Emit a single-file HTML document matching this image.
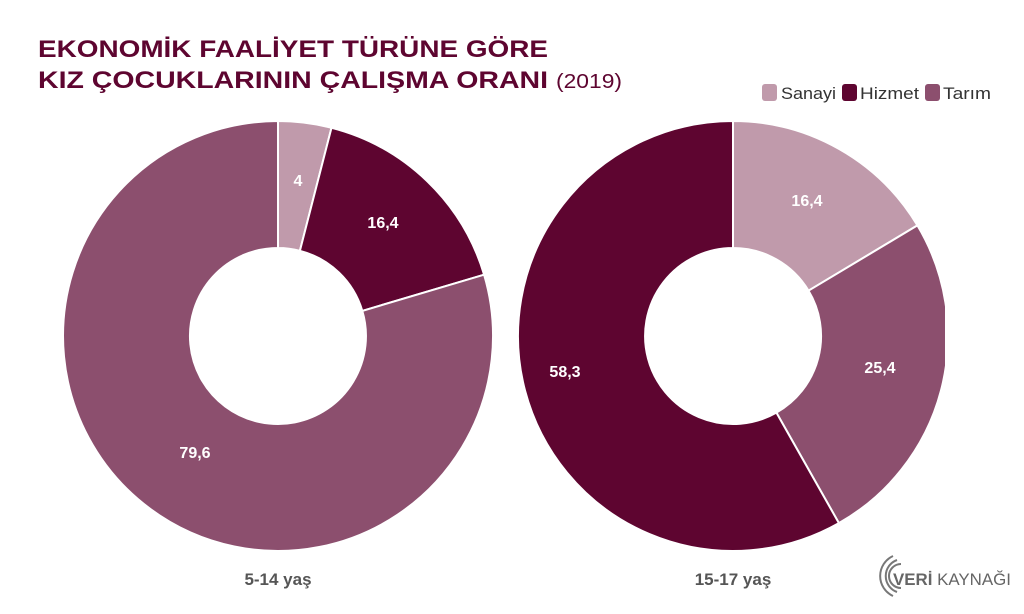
<!DOCTYPE html>
<html><head><meta charset="utf-8"><style>
body{margin:0;background:#fff;}
svg{display:block;font-family:"Liberation Sans",sans-serif;}
</style></head><body>
<svg width="1024" height="614" viewBox="0 0 1024 614">
<text x="38" y="57" font-size="24" font-weight="bold" fill="#5e0530" textLength="510" lengthAdjust="spacingAndGlyphs">EKONOMİK FAALİYET TÜRÜNE GÖRE</text>
<text x="38" y="88" font-size="24" font-weight="bold" fill="#5e0530" textLength="510" lengthAdjust="spacingAndGlyphs">KIZ ÇOCUKLARININ ÇALIŞMA ORANI</text>
<text x="556" y="88" font-size="20" fill="#5e0530" textLength="66" lengthAdjust="spacingAndGlyphs">(2019)</text>
<rect x="762" y="84" width="15" height="17" rx="3" fill="#c09aab"/><text x="781" y="99" font-size="17" fill="#333" textLength="55" lengthAdjust="spacingAndGlyphs">Sanayi</text>
<rect x="842" y="84" width="15" height="17" rx="3" fill="#5e0530"/><text x="860" y="99" font-size="17" fill="#333" textLength="59" lengthAdjust="spacingAndGlyphs">Hizmet</text>
<rect x="925" y="84" width="15" height="17" rx="3" fill="#8c4f6e"/><text x="943" y="99" font-size="17" fill="#333" textLength="48" lengthAdjust="spacingAndGlyphs">Tarım</text>
<g stroke="#fff" stroke-width="2">
<path d="M278,121 A215,215 0 0 1 331.5,127.8 L299.9,250.8 A88,88 0 0 0 278,248 Z" fill="#c09aab"/>
<path d="M331.5,127.8 A215,215 0 0 1 484.1,274.7 L362.3,310.9 A88,88 0 0 0 299.9,250.8 Z" fill="#5e0530"/>
<path d="M484.1,274.7 A215,215 0 1 1 278,121 L278,248 A88,88 0 1 0 362.3,310.9 Z" fill="#8c4f6e"/>
</g>
<defs><clipPath id="c"><rect x="0" y="0" width="945" height="614"/></clipPath></defs>
<g stroke="#fff" stroke-width="2" clip-path="url(#c)">
<path d="M733,121 A215,215 0 0 1 917.4,225.4 L808.5,290.7 A88,88 0 0 0 733,248 Z" fill="#c09aab"/>
<path d="M917.4,225.4 A215,215 0 0 1 838.9,523.1 L776.4,412.6 A88,88 0 0 0 808.5,290.7 Z" fill="#8c4f6e"/>
<path d="M838.9,523.1 A215,215 0 1 1 733,121 L733,248 A88,88 0 1 0 776.4,412.6 Z" fill="#5e0530"/>
</g>
<g fill="#fff" font-size="16" font-weight="bold" text-anchor="middle">
<text x="298" y="186">4</text>
<text x="383" y="228">16,4</text>
<text x="195" y="458">79,6</text>
<text x="807" y="206">16,4</text>
<text x="880" y="373">25,4</text>
<text x="565" y="377">58,3</text>
</g>
<text x="278" y="585" font-size="17" font-weight="bold" fill="#555" text-anchor="middle">5-14 yaş</text>
<text x="733" y="585" font-size="17" font-weight="bold" fill="#555" text-anchor="middle">15-17 yaş</text>
<g fill="none" stroke="#777" stroke-width="2">
<path d="M893,596 A22,22 0 0 1 893,556"/>
<path d="M897,592 A17,17 0 0 1 897,560"/>
<path d="M901,588 A12,12 0 0 1 901,564"/>
</g>
<text x="893" y="585" font-size="17" fill="#666" textLength="118" lengthAdjust="spacingAndGlyphs"><tspan font-weight="bold">VERİ</tspan> KAYNAĞI</text>
</svg>
</body></html>
